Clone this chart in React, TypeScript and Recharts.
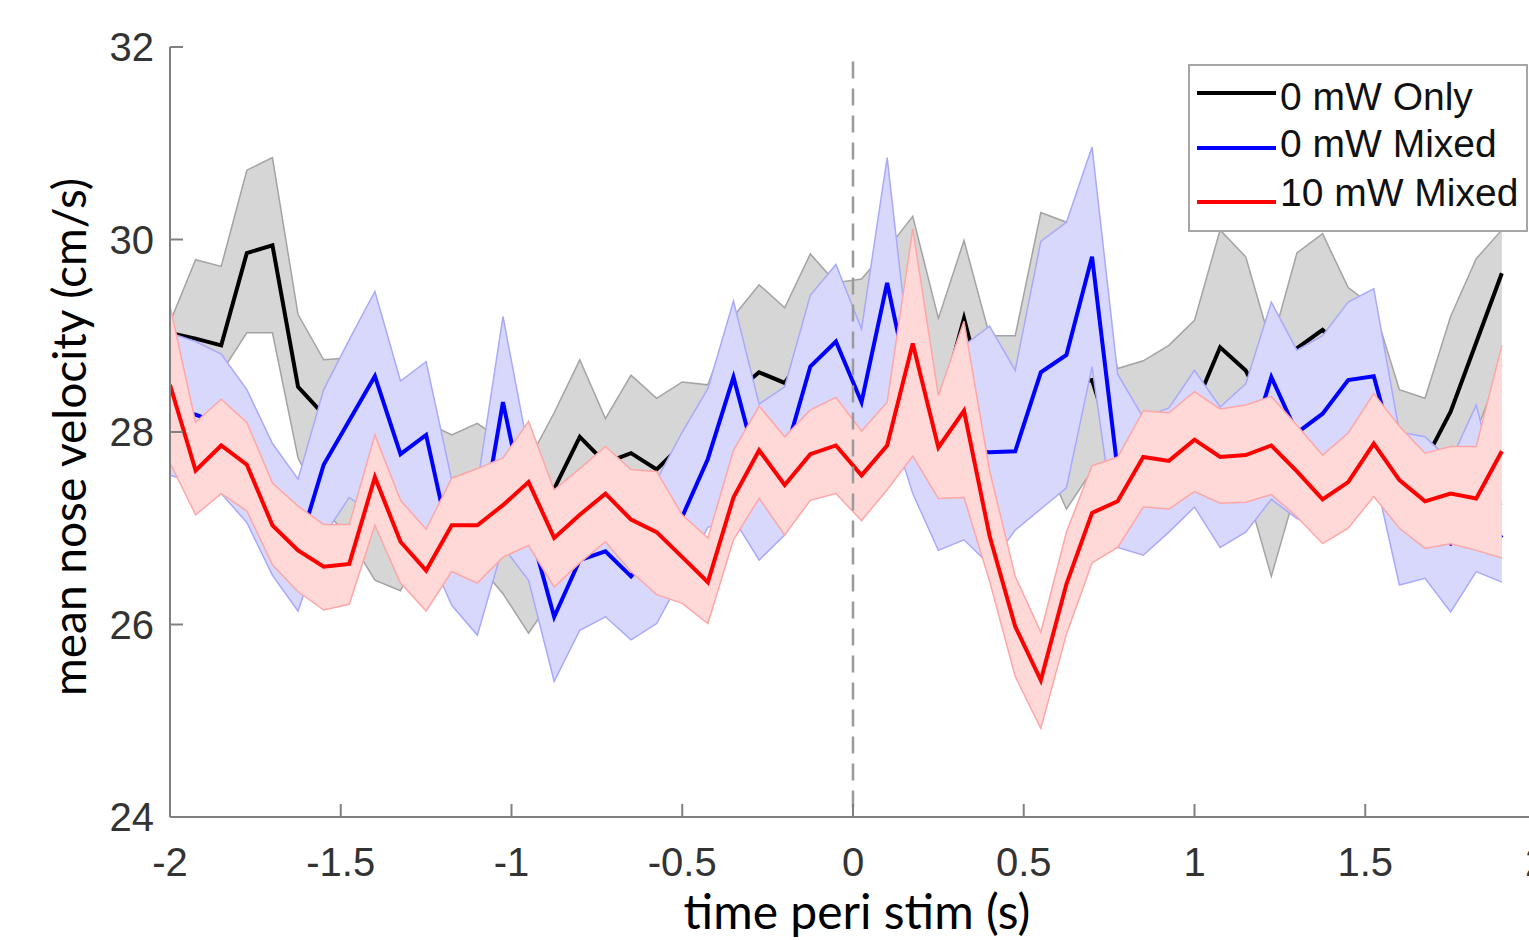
import { ComposedChart, Area, Line, XAxis, YAxis, ReferenceLine, Legend } from 'recharts';

// time bins (s), 0.075 s apart
const time = [
  -2, -1.925, -1.85, -1.775, -1.7, -1.625, -1.55, -1.475, -1.4, -1.325, -1.25, -1.175, -1.1,
  -1.025, -0.95, -0.875, -0.8, -0.725, -0.65, -0.575, -0.5, -0.425, -0.35, -0.275, -0.2, -0.125,
  -0.05, 0.025, 0.1, 0.175, 0.25, 0.325, 0.4, 0.475, 0.55, 0.625, 0.7, 0.775, 0.85, 0.925, 1.0,
  1.075, 1.15, 1.225, 1.3, 1.375, 1.45, 1.525, 1.6, 1.675, 1.75, 1.825, 1.9,
];

// 0 mW Only
const onlyMean = [
  29.03, 28.97, 28.9, 29.86, 29.94, 28.47, 28.18, 27.9, 27.6, 27.5, 27.4, 27.3, 27.3,
  27.2, 27.0, 27.41, 27.95, 27.68, 27.78, 27.61, 27.87, 28.1, 28.4, 28.62, 28.51, 28.9,
  29.0, 28.9, 29.1, 29.2, 28.2, 29.18, 28.15, 28.2, 28.4, 28.5, 28.54, 27.7, 27.9, 28.0, 28.25,
  28.88, 28.64, 28.1, 28.87, 29.06, 28.8, 28.6, 27.8, 27.7, 28.21, 28.93, 29.65,
];
const onlyHigh = [
  29.14, 29.79, 29.72, 30.72, 30.85, 29.22, 28.75, 28.77, 28.5, 28.3, 28.1, 27.97, 28.09,
  27.9, 27.7, 28.2, 28.75, 28.14, 28.59, 28.35, 28.52, 28.49, 29.2, 29.53, 29.29, 29.85,
  29.55, 29.59, 29.9, 30.24, 29.18, 29.99, 29.0, 29.0, 30.28, 30.18, 29.6, 28.66, 28.74, 28.9, 29.16,
  30.1, 29.82, 28.9, 29.86, 30.06, 29.5, 29.3, 28.44, 28.35, 29.2, 29.8, 30.1,
];
const onlyLow = [
  28.6, 28.5, 28.62, 29.03, 29.03, 27.73, 27.2, 26.9, 26.46, 26.35, 26.9, 26.7, 26.64,
  26.32, 25.91, 26.3, 27.4, 27.2, 27.2, 27.1, 27.3, 27.5, 27.7, 27.9, 27.9, 28.1,
  28.0, 28.1, 28.2, 28.0, 27.7, 28.3, 27.6, 27.6, 27.8, 27.2, 27.6, 27.3, 27.4, 27.5, 27.6,
  27.9, 27.43, 26.5, 27.43, 28.4, 28.3, 28.0, 27.4, 27.0, 27.3, 28.0, 28.7,
];

// 0 mW Mixed
const mixedMean = [
  28.23, 28.18, 28.08, 27.75, 27.19, 26.78, 27.66, 28.12, 28.58, 27.77, 27.97, 26.76, 26.76,
  28.31, 27.05, 26.08, 26.67, 26.76, 26.5, 26.81, 27.12, 27.72, 28.57, 27.57, 27.75, 28.68,
  28.94, 28.31, 29.55, 28.3, 27.9, 27.8, 27.79, 27.8, 28.62, 28.8, 29.82, 27.6, 27.4, 27.6, 27.9,
  27.5, 27.7, 28.57, 27.99, 28.19, 28.54, 28.58, 27.6, 27.0, 26.84, 27.2, 26.9,
];
const mixedHigh = [
  29.03, 28.94, 28.81, 28.44, 27.88, 27.51, 28.44, 28.96, 29.46, 28.53, 28.73, 27.5, 27.45,
  29.2, 27.8, 27.3, 27.4, 27.3, 27.4, 27.5, 28.0, 28.45, 29.36, 28.29, 28.47, 29.42,
  29.74, 29.07, 30.85, 28.5, 28.3, 28.9, 29.1, 28.64, 29.98, 30.18, 30.96, 28.6, 28.15, 28.25, 28.64,
  28.26, 28.5, 29.35, 28.85, 29.0, 29.35, 29.49, 28.0, 27.95, 27.7, 28.28, 27.24,
];
const mixedLow = [
  27.55, 27.47, 27.36, 27.06, 26.51, 26.14, 26.92, 27.32, 27.14, 26.9, 26.8, 26.2, 25.89,
  26.81, 26.46, 25.41, 25.94, 26.08, 25.84, 26.01, 26.5, 27.01, 27.1, 26.67, 26.93, 27.6,
  27.9, 27.6, 28.2, 27.36, 26.77, 26.88, 26.62, 26.98, 27.2, 27.42, 28.68, 26.8, 26.72, 26.96, 27.22,
  26.8, 26.96, 27.3, 27.1, 27.0, 27.4, 27.6, 26.41, 26.48, 26.13, 26.55, 26.44,
];

// 10 mW Mixed
const stimMean = [
  28.49, 27.6, 27.86, 27.66, 27.03, 26.77, 26.6, 26.63, 27.53, 26.86, 26.56, 27.03, 27.03,
  27.24, 27.48, 26.9, 27.14, 27.36, 27.09, 26.96, 26.7, 26.44, 27.32, 27.81, 27.45, 27.77,
  27.86, 27.55, 27.86, 28.92, 27.84, 28.22, 26.92, 25.98, 25.42, 26.42, 27.16, 27.28, 27.74, 27.7, 27.92,
  27.74, 27.76, 27.86, 27.59, 27.3, 27.48, 27.88, 27.5, 27.28, 27.36, 27.31, 27.8,
];
const stimHigh = [
  29.31, 28.1, 28.34, 28.1, 27.47, 27.23, 27.04, 27.04, 27.97, 27.29, 26.99, 27.52, 27.62,
  27.73, 28.11, 27.4, 27.62, 27.85, 27.61, 27.59, 27.14, 26.9, 27.81, 28.27, 27.95, 28.23,
  28.36, 28.01, 28.31, 30.11, 28.38, 29.15, 27.6, 26.5, 25.92, 26.96, 27.65, 27.74, 28.22, 28.2, 28.42,
  28.24, 28.28, 28.37, 28.07, 27.76, 27.99, 28.4, 28.06, 27.78, 27.85, 27.85, 28.9,
];
const stimLow = [
  27.68, 27.14, 27.36, 27.18, 26.62, 26.34, 26.15, 26.21, 27.03, 26.43, 26.14, 26.55, 26.43,
  26.7, 26.82, 26.39, 26.64, 26.86, 26.55, 26.31, 26.22, 26.01, 26.88, 27.31, 26.93, 27.29,
  27.36, 27.08, 27.4, 27.75, 27.31, 27.32, 26.45, 25.46, 24.92, 25.9, 26.64, 26.8, 27.22, 27.2, 27.38,
  27.26, 27.27, 27.35, 27.12, 26.84, 27.0, 27.33, 27.0, 26.79, 26.84, 26.77, 26.69,
];

const seriesNames = ['0 mW Only', '0 mW Mixed', '10 mW Mixed'];
const xTicks = [-2, -1.5, -1, -0.5, 0, 0.5, 1, 1.5, 2];
const yTicks = [24, 26, 28, 30, 32];

const data = time.map((t, i) => ({
  t,
  only: onlyMean[i],
  onlyBand: [onlyLow[i], onlyHigh[i]],
  mixed: mixedMean[i],
  mixedBand: [mixedLow[i], mixedHigh[i]],
  stim: stimMean[i],
  stimBand: [stimLow[i], stimHigh[i]],
}));

const tickFont = '"Liberation Sans", Arial, sans-serif';
const labelFont = 'Lato, "Open Sans", sans-serif';
const axisGray = '#808080';

const XTick = (props: any) => {
  const { x, y, payload } = props;
  return (
    <g>
      <line x1={x} y1={y} x2={x} y2={y - 13} stroke={axisGray} strokeWidth={2} />
      <text x={x} y={y + 59} textAnchor="middle" fontSize={40} fill="#333" fontFamily={tickFont}>
        {payload.value}
      </text>
    </g>
  );
};

const YTick = (props: any) => {
  const { x, y, payload } = props;
  return (
    <g>
      <line x1={x} y1={y} x2={x + 13} y2={y} stroke={axisGray} strokeWidth={2} />
      <text x={x - 16} y={y + 14} textAnchor="end" fontSize={40} fill="#333" fontFamily={tickFont}>
        {payload.value}
      </text>
    </g>
  );
};

const XLabel = () => (
  <text x={857} y={929} textAnchor="middle" fontSize={48} fill="#000" fontFamily={labelFont}>
    time peri stim (s)
  </text>
);

const YLabel = () => (
  <text transform="translate(86,437) rotate(-90)" textAnchor="middle" fontSize={46} fill="#000" fontFamily={labelFont}>
    mean nose velocity (cm/s)
  </text>
);

const lineRows = [29, 84, 138];
const textRows = [46, 93, 142];

const LegendBox = (props: any) => {
  const items = (props.payload || [])
    .filter((p: any) => seriesNames.includes(p.value))
    .sort((a: any, b: any) => seriesNames.indexOf(a.value) - seriesNames.indexOf(b.value));
  return (
    <svg width={340} height={168}>
      <rect x={1} y={1} width={338} height={166} fill="#fff" stroke="#a6a6a6" strokeWidth={2} />
      {items.map((p: any, i: number) => (
        <g key={p.value}>
          <line x1={9} x2={88} y1={lineRows[i]} y2={lineRows[i]} stroke={p.color} strokeWidth={4} />
          <text x={92} y={textRows[i]} fontSize={39} fill="#111" fontFamily={tickFont}>
            {p.value}
          </text>
        </g>
      ))}
    </svg>
  );
};

const App = () => {
  return (
    <div style={{ position: 'absolute', left: 0, top: 0, width: 1529, height: 940, overflow: 'hidden', background: '#fff' }}>
      <ComposedChart width={1560} height={940} data={data} margin={{ top: 47, right: 24, bottom: 0, left: 70 }}>
        <XAxis
          dataKey="t"
          type="number"
          domain={[-2, 2]}
          ticks={xTicks}
          allowDataOverflow
          height={123}
          tickSize={0}
          tickMargin={0}
          tickLine={false}
          tick={<XTick />}
          axisLine={{ stroke: axisGray, strokeWidth: 2 }}
          label={XLabel}
        />
        <YAxis
          type="number"
          domain={[24, 32]}
          ticks={yTicks}
          allowDataOverflow
          width={100}
          tickSize={0}
          tickMargin={0}
          tickLine={false}
          tick={<YTick />}
          axisLine={{ stroke: axisGray, strokeWidth: 2 }}
          label={YLabel}
        />
        <Area
          dataKey="onlyBand"
          type="linear"
          fill="#d6d6d6"
          fillOpacity={1}
          stroke="#a3a3a3"
          strokeWidth={1.5}
          legendType="none"
          dot={false}
          activeDot={false}
          isAnimationActive={false}
          zIndex={101}
        />
        <Line
          dataKey="only"
          name={seriesNames[0]}
          type="linear"
          stroke="#000000"
          strokeWidth={4}
          dot={false}
          activeDot={false}
          isAnimationActive={false}
          zIndex={102}
        />
        <Area
          dataKey="mixedBand"
          type="linear"
          fill="#d8d8fd"
          fillOpacity={1}
          stroke="#a9a9fb"
          strokeWidth={1.5}
          legendType="none"
          dot={false}
          activeDot={false}
          isAnimationActive={false}
          zIndex={103}
        />
        <Line
          dataKey="mixed"
          name={seriesNames[1]}
          type="linear"
          stroke="#0000ff"
          strokeWidth={4}
          dot={false}
          activeDot={false}
          isAnimationActive={false}
          zIndex={104}
        />
        <Area
          dataKey="stimBand"
          type="linear"
          fill="#ffd8d8"
          fillOpacity={1}
          stroke="#ffa6a6"
          strokeWidth={1.5}
          legendType="none"
          dot={false}
          activeDot={false}
          isAnimationActive={false}
          zIndex={105}
        />
        <Line
          dataKey="stim"
          name={seriesNames[2]}
          type="linear"
          stroke="#ff0000"
          strokeWidth={4}
          dot={false}
          activeDot={false}
          isAnimationActive={false}
          zIndex={106}
        />
        <ReferenceLine
          segment={[{ x: 0, y: 31.85 }, { x: 0, y: 24 }]}
          stroke="#9a9a9a"
          strokeWidth={2.5}
          strokeDasharray="17 10"
          zIndex={107}
        />
        <Legend
          layout="vertical"
          align="center"
          verticalAlign="middle"
          wrapperStyle={{ left: 1188, top: 64, width: 340, height: 168 }}
          content={LegendBox}
        />
      </ComposedChart>
    </div>
  );
};

export default App;
